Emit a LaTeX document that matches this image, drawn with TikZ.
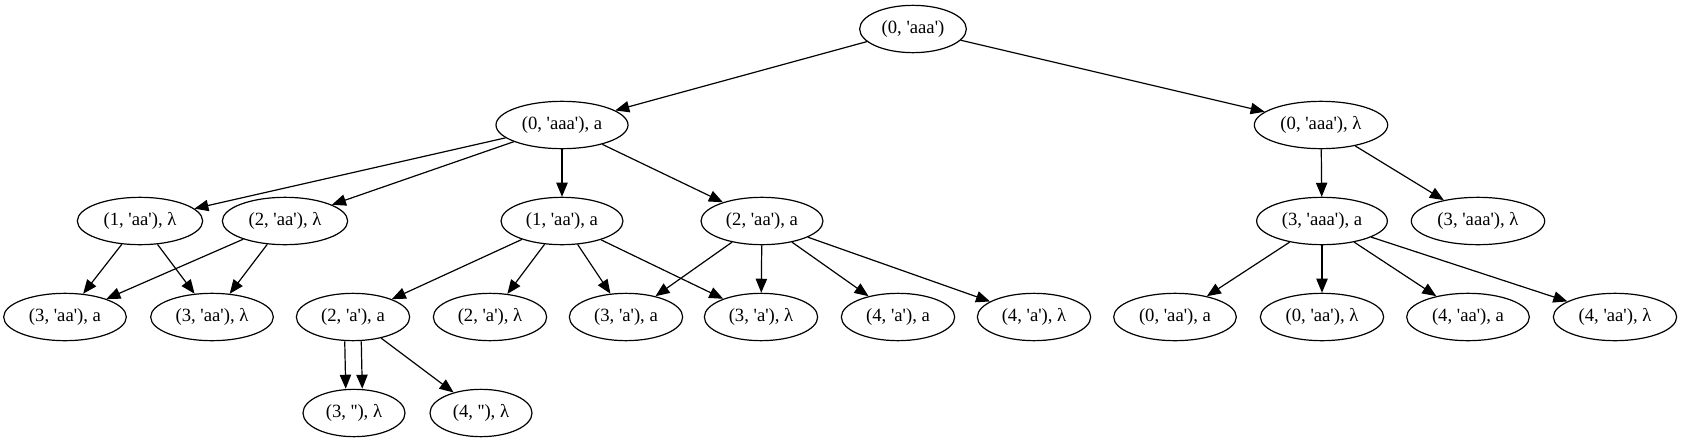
\documentclass[tikz,border=0pt]{standalone}
\usepackage{fontspec}
\setmainfont{Liberation Serif}[Ligatures=TeXOff]
\usetikzlibrary{arrows.meta,shapes.geometric}
\begin{document}
\begin{tikzpicture}[x=0.75pt,y=-0.75pt,
  nd/.style={draw,ellipse,line width=0.9pt,minimum height=35.5pt,inner sep=0pt,
    font=\fontsize{14}{17}\selectfont},
  conn/.style={draw,line width=0.9pt,-{Triangle[length=10.5pt,width=8.5pt]}}]
\useasboundingbox (0,0) rectangle (1682,443);
% rank 0
\node[nd,minimum width=80pt] (r) at (913,29) {(0, 'aaa')};
% rank 1
\node[nd,minimum width=99pt] (a) at (562,125) {(0, 'aaa'), a};
\node[nd,minimum width=100pt] (b) at (1321,125) {(0, 'aaa'), λ};
% rank 2
\node[nd,minimum width=94pt] (c1) at (140,221) {(1, 'aa'), λ};
\node[nd,minimum width=94pt] (c2) at (285,221) {(2, 'aa'), λ};
\node[nd,minimum width=91.5pt] (c3) at (562,221) {(1, 'aa'), a};
\node[nd,minimum width=91.5pt] (c4) at (762,221) {(2, 'aa'), a};
\node[nd,minimum width=98pt] (c5) at (1322,221) {(3, 'aaa'), a};
\node[nd,minimum width=100pt] (c6) at (1478,221) {(3, 'aaa'), λ};
% rank 3
\node[nd,minimum width=92pt] (d1) at (65,317) {(3, 'aa'), a};
\node[nd,minimum width=92pt] (d2) at (212,317) {(3, 'aa'), λ};
\node[nd,minimum width=85pt] (d3) at (353,317) {(2, 'a'), a};
\node[nd,minimum width=85pt] (d4) at (490,317) {(2, 'a'), λ};
\node[nd,minimum width=85pt] (d5) at (626,317) {(3, 'a'), a};
\node[nd,minimum width=85pt] (d6) at (761,317) {(3, 'a'), λ};
\node[nd,minimum width=85pt] (d7) at (898,317) {(4, 'a'), a};
\node[nd,minimum width=85pt] (d8) at (1034,317) {(4, 'a'), λ};
\node[nd,minimum width=92pt] (d9) at (1175,317) {(0, 'aa'), a};
\node[nd,minimum width=92.5pt] (d10) at (1322,317) {(0, 'aa'), λ};
\node[nd,minimum width=92pt] (d11) at (1468,317) {(4, 'aa'), a};
\node[nd,minimum width=92.5pt] (d12) at (1615,317) {(4, 'aa'), λ};
% rank 4
\node[nd,minimum width=76.5pt] (e1) at (354,413) {(3, ''), λ};
\node[nd,minimum width=76.5pt] (e2) at (481,413) {(4, ''), λ};
% edges
\draw[conn] (r) -- (a);
\draw[conn] (r) -- (b);
\draw[conn] (a) -- (c1);
\draw[conn] (a) -- (c2);
\draw[conn] (a) -- (c3);
\draw[conn] (a) -- (c4);
\draw[conn] (b) -- (c5);
\draw[conn] (b) -- (c6);
\draw[conn] (c1) -- (d1);
\draw[conn] (c1) -- (d2);
\draw[conn] (c2) -- (d1);
\draw[conn] (c2) -- (d2);
\draw[conn] (c3) -- (d3);
\draw[conn] (c3) -- (d4);
\draw[conn] (c3) -- (d5);
\draw[conn] (c3) -- (d6);
\draw[conn] (c4) -- (d5);
\draw[conn] (c4) -- (d6);
\draw[conn] (c4) -- (d7);
\draw[conn] (c4) -- (d8);
\draw[conn] (c5) -- (d9);
\draw[conn] (c5) -- (d10);
\draw[conn] (c5) -- (d11);
\draw[conn] (c5) -- (d12);
\draw[conn] ([xshift=-6.2pt]d3.south) -- ([xshift=-6.2pt]e1.north);
\draw[conn] ([xshift=6.2pt]d3.south) -- ([xshift=6.2pt]e1.north);
\draw[conn] (d3) -- (e2);
\end{tikzpicture}
\end{document}
